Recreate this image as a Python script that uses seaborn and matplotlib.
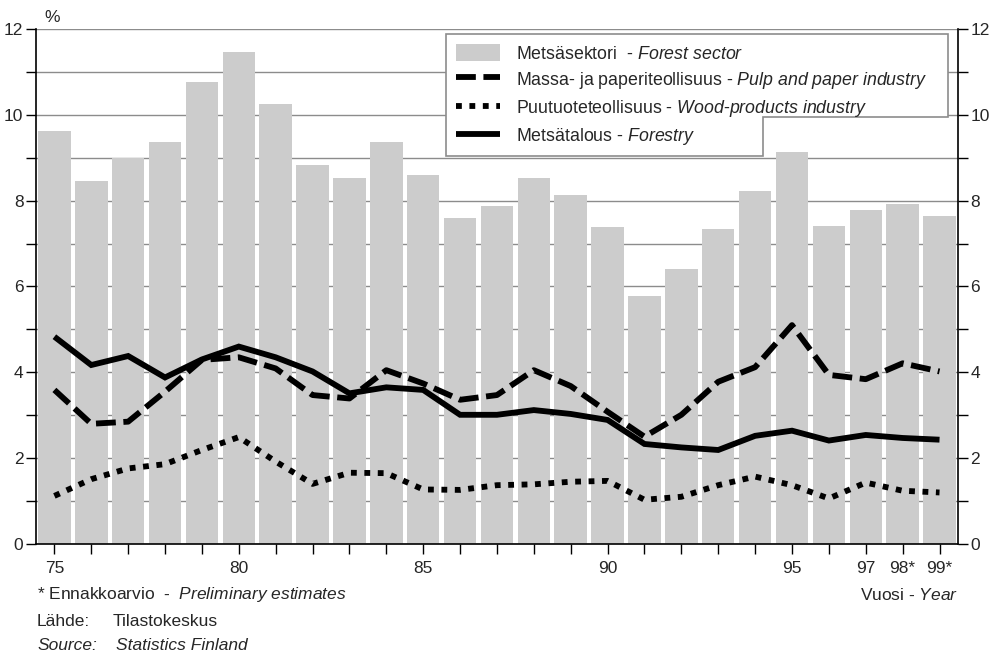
import pandas as pd
import seaborn as sns
import matplotlib.pyplot as plt
from matplotlib.patches import Patch, Polygon
from matplotlib.lines import Line2D

years = list(range(1975, 2000))
forest_sector = [9.62, 8.46, 9.00, 9.36, 10.76, 11.46, 10.25, 8.83, 8.53, 9.37, 8.59, 7.60, 7.88,
                 8.53, 8.13, 7.39, 5.78, 6.40, 7.34, 8.22, 9.13, 7.41, 7.78, 7.93, 7.64]
pulp_paper = [3.59, 2.80, 2.85, 3.55, 4.29, 4.35, 4.09, 3.47, 3.39, 4.05, 3.74, 3.36, 3.47,
              4.05, 3.68, 3.08, 2.50, 3.01, 3.78, 4.12, 5.10, 3.94, 3.84, 4.21, 4.02]
wood_products = [1.12, 1.51, 1.76, 1.86, 2.19, 2.49, 1.92, 1.40, 1.66, 1.65, 1.27, 1.26, 1.37,
                 1.39, 1.45, 1.47, 1.03, 1.10, 1.37, 1.57, 1.37, 1.06, 1.43, 1.24, 1.20]
forestry = [4.83, 4.17, 4.38, 3.88, 4.30, 4.60, 4.35, 4.02, 3.51, 3.65, 3.59, 3.01, 3.01,
            3.12, 3.03, 2.89, 2.33, 2.25, 2.19, 2.52, 2.64, 2.41, 2.54, 2.47, 2.43]
year_labels = {1975: '75', 1980: '80', 1985: '85', 1990: '90', 1995: '95',
               1997: '97', 1998: '98*', 1999: '99*'}

df = pd.DataFrame({'year': years, 'forest': forest_sector, 'pulp': pulp_paper,
                   'wood': wood_products, 'forestry': forestry})

sns.set_style('white')
FONT = 'Liberation Sans'
plt.rcParams['font.family'] = [FONT, 'DejaVu Sans']
plt.rcParams['mathtext.fontset'] = 'custom'
plt.rcParams['mathtext.rm'] = FONT
plt.rcParams['mathtext.it'] = FONT + ':italic'

fig = plt.figure(figsize=(9.96, 6.58), dpi=100)
ax = fig.add_axes([0.0361, 0.1733, 0.9257, 0.7826])

bar_col = '#cccccc'
sns.barplot(data=df, x='year', y='forest', native_scale=True, color=bar_col,
            width=0.88, saturation=1, linewidth=0, ax=ax, zorder=2)

lw = 4.2
dash = (0, (3.4, 1.3))
dot = (0, (1, 1.3))
sns.lineplot(data=df, x='year', y='pulp', color='black', lw=lw, linestyle=dash,
             dash_capstyle='butt', ax=ax, zorder=3)
sns.lineplot(data=df, x='year', y='wood', color='black', lw=lw, linestyle=dot,
             dash_capstyle='butt', ax=ax, zorder=3)
sns.lineplot(data=df, x='year', y='forestry', color='black', lw=lw,
             solid_capstyle='butt', solid_joinstyle='miter', ax=ax, zorder=3)

ax.set_xlim(years[0] - 0.5, years[-1] + 0.5)
ax.set_ylim(0, 12)
ax.set_xticks(years)
ax.set_xticklabels([year_labels.get(y, '') for y in years])
ax.set_yticks(range(0, 13))
ax.set_yticklabels([str(v) if v % 2 == 0 else '' for v in range(0, 13)])
ax.set_xlabel('')
ax.set_ylabel('')
ax.grid(axis='y', color='#8c8c8c', lw=1, zorder=0)
ax.set_axisbelow(True)
ax.tick_params(axis='y', direction='out', length=7, width=1, color='black',
               labelsize=12.5, left=True, right=True, labelright=True, pad=2)
ax.tick_params(axis='x', direction='out', length=7, width=1, color='black',
               labelsize=12.5, bottom=True, pad=5)
ax.spines['top'].set_visible(False)
for s in ['left', 'bottom', 'right']:
    ax.spines[s].set_color('black')
    ax.spines[s].set_linewidth(1.2)

# notched legend frame
W, H = 996, 658
frame_px = [(446, 34), (948, 34), (948, 117), (763, 117), (763, 156), (446, 156)]
frame = Polygon([(x / W, 1 - y / H) for x, y in frame_px], closed=True,
                transform=fig.transFigure, facecolor='white', edgecolor='#8c8c8c',
                lw=1.2, zorder=5)
ax.add_artist(frame)
frame.set_clip_on(False)

handles = [Patch(facecolor=bar_col, edgecolor='none'),
           Line2D([], [], color='black', lw=lw, linestyle=dash, dash_capstyle='butt'),
           Line2D([], [], color='black', lw=lw, linestyle=dot, dash_capstyle='butt'),
           Line2D([], [], color='black', lw=lw, solid_capstyle='butt')]
labels = ['Metsäsektori  - $\\it{Forest\\ sector}$',
          'Massa- ja paperiteollisuus - $\\it{Pulp\\ and\\ paper\\ industry}$',
          'Puutuoteteollisuus - $\\it{Wood‐products\\ industry}$',
          'Metsätalous - $\\it{Forestry}$']
leg = fig.legend(handles, labels, loc='upper left', bbox_to_anchor=(456 / W, 1 - 44 / H),
                 frameon=False, fontsize=12.8, handlelength=2.5, handleheight=1.1,
                 handletextpad=0.9, labelspacing=0.4, borderaxespad=0, borderpad=0)
leg.set_zorder(6)

fs = 12.5
fig.text(44 / W, 1 - 18 / H, '%', fontsize=fs, va='center', ha='left')
fig.text(37 / W, 1 - 595 / H, '* Ennakkoarvio  -  $\\it{Preliminary\\ estimates}$',
         fontsize=fs, va='center', ha='left')
fig.text(958 / W, 1 - 595 / H, 'Vuosi - $\\it{Year}$', fontsize=fs, va='center', ha='right')
fig.text(37 / W, 1 - 622 / H, 'Lähde:', fontsize=fs, va='center', ha='left')
fig.text(113 / W, 1 - 622 / H, 'Tilastokeskus', fontsize=fs, va='center', ha='left')
fig.text(37 / W, 1 - 646 / H, 'Source:', fontsize=fs, va='center', ha='left', style='italic')
fig.text(116 / W, 1 - 646 / H, 'Statistics Finland', fontsize=fs, va='center', ha='left',
         style='italic')

fig.savefig('out.png', dpi=100)
